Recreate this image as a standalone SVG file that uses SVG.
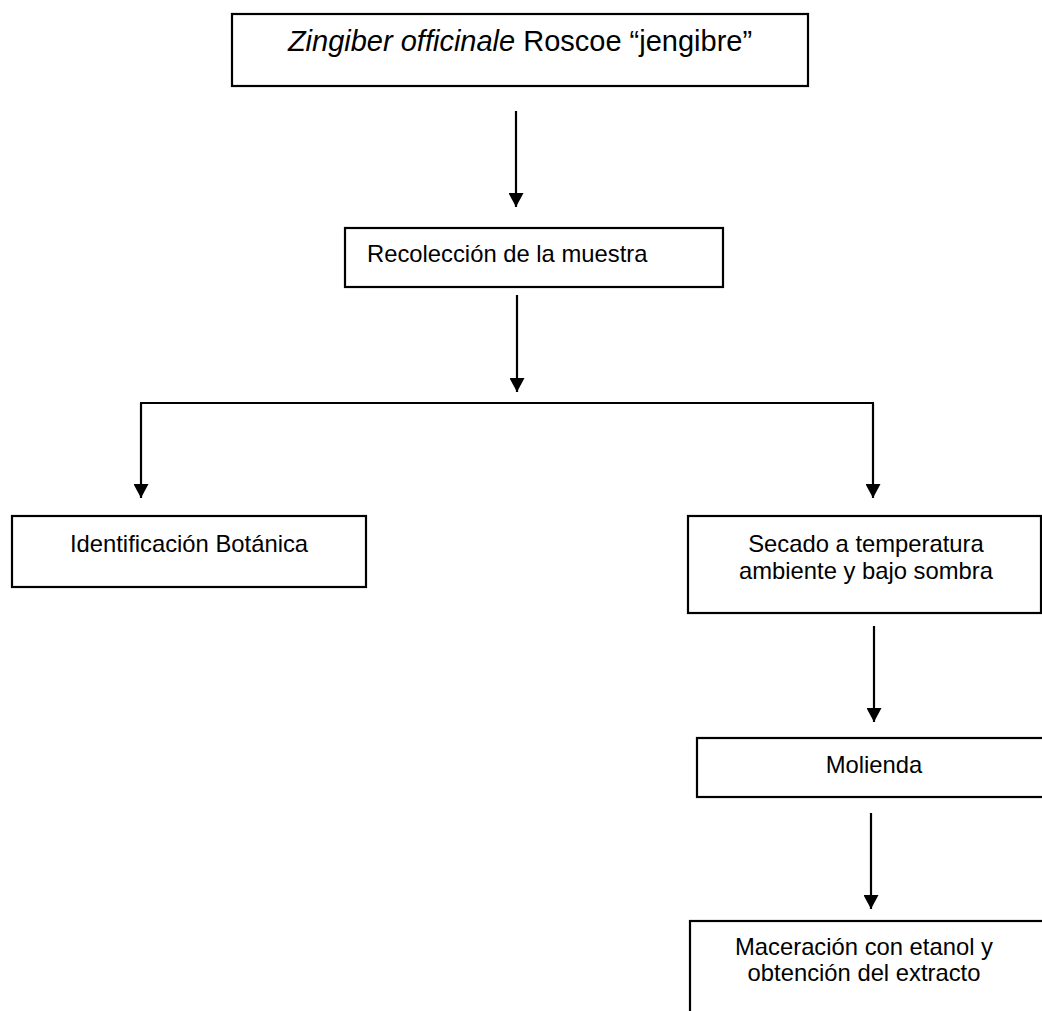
<svg xmlns="http://www.w3.org/2000/svg" width="1042" height="1011" viewBox="0 0 1042 1011">
<defs>
<marker id="ah" markerUnits="userSpaceOnUse" viewBox="0 0 14 15" refX="14" refY="7.5" markerWidth="14" markerHeight="15" orient="auto">
<path d="M0,0 L14,7.5 L0,15 z" fill="#000"/>
</marker>
<style>
.box{fill:#fff;stroke:#000;stroke-width:2.2}
.t{font-family:"Liberation Sans",Arial,sans-serif;font-size:23.8px;fill:#000}
.c{text-anchor:middle}
.edge{stroke:#000;stroke-width:2.2;fill:none}
.arr{marker-end:url(#ah)}
</style>
</defs>
<rect width="1042" height="1011" fill="#fff"/>
<g id="connectors">
<line class="edge arr" x1="516" y1="111" x2="516" y2="207"/>
<line class="edge arr" x1="517" y1="295" x2="517" y2="392"/>
<line class="edge" x1="140" y1="403" x2="874" y2="403"/>
<line class="edge arr" x1="141" y1="403" x2="141" y2="498"/>
<line class="edge arr" x1="873" y1="403" x2="873" y2="498"/>
<line class="edge arr" x1="874" y1="626" x2="874" y2="722"/>
<line class="edge arr" x1="871" y1="813" x2="871" y2="909"/>
</g>
<g id="n-zingiber">
<rect class="box" x="232" y="14" width="576" height="72"/>
<text class="t c" x="520" y="51" style="font-size:29px"><tspan font-style="italic">Zingiber officinale</tspan> Roscoe “jengibre”</text>
</g>
<g id="n-recoleccion">
<rect class="box" x="345" y="228" width="378" height="59"/>
<text class="t" x="367" y="262">Recolección de la muestra</text>
</g>
<g id="n-identificacion">
<rect class="box" x="12" y="516" width="354" height="71"/>
<text class="t c" x="189" y="552">Identificación Botánica</text>
</g>
<g id="n-secado">
<rect class="box" x="688" y="516" width="353" height="97"/>
<text class="t c" x="866" y="552">Secado a temperatura</text>
<text class="t c" x="866" y="579">ambiente y bajo sombra</text>
</g>
<g id="n-molienda">
<rect class="box" x="697" y="738" width="360" height="59"/>
<text class="t c" x="874" y="773">Molienda</text>
</g>
<g id="n-maceracion">
<rect class="box" x="690" y="921" width="360" height="110"/>
<text class="t c" x="864" y="955">Maceración con etanol y</text>
<text class="t c" x="864" y="981">obtención del extracto</text>
</g>
</svg>
